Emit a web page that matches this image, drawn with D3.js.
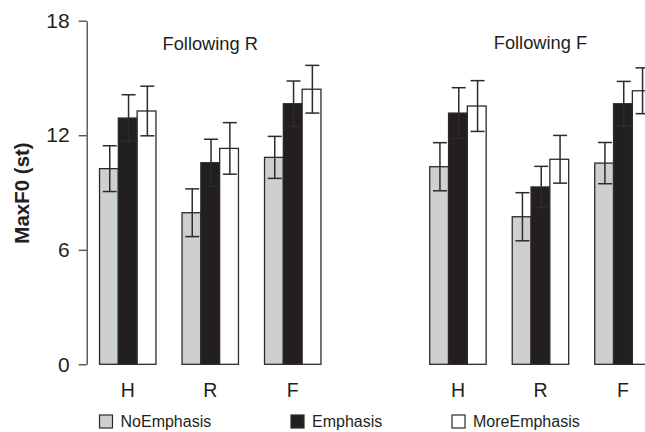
<!DOCTYPE html>
<html>
<head>
<meta charset="utf-8">
<script src="https://cdn.jsdelivr.net/npm/d3@7"></script>
<style>
  html, body { margin: 0; padding: 0; background: #fff; }
  svg { display: block; font-family: "Liberation Sans", Arial, Helvetica, sans-serif; }
</style>
</head>
<body>
<svg id="chart" width="645" height="432"></svg>
<script>
// Max F0 (semitones) by target tone, split by the preceding context
const panels = ["Following R", "Following F"];
const categories = ["H", "R", "F"];
const seriesNames = ["NoEmphasis", "Emphasis", "MoreEmphasis"];
const yTicks = [0, 6, 12, 18];

// mean values, one array per panel, rows = categories, columns = series
const meansFollowingR = [
  [10.25, 12.9, 13.27],
  [7.94, 10.56, 11.31],
  [10.84, 13.65, 14.41]
];
const meansFollowingF = [
  [10.35, 13.16, 13.53],
  [7.73, 9.29, 10.74],
  [10.54, 13.65, 14.33]
];
// error half-widths
const errFollowingR = [
  [1.2, 1.22, 1.3],
  [1.25, 1.23, 1.35],
  [1.1, 1.19, 1.25]
];
const errFollowingF = [
  [1.26, 1.33, 1.33],
  [1.26, 1.08, 1.25],
  [1.08, 1.17, 1.2]
];

const means = [meansFollowingR, meansFollowingF];
const errs = [errFollowingR, errFollowingF];

const fills = { NoEmphasis: "#cecfd1", Emphasis: "#231f20", MoreEmphasis: "#ffffff" };
const ink = "#231f20";
const strokeCol = "#2b2b2b";

const svg = d3.select("#chart");

const y = d3.scaleLinear().domain([0, 18]).range([364.3, 20.7]);
const panelX = d3.scaleBand().domain(panels).range([86.5, 86.5 + 2 * 330.2]);
const catX = d3.scaleBand().domain(categories).range([0, 247.5])
  .paddingInner(0.316).paddingOuter(0.158);
const serX = d3.scaleBand().domain(seriesNames).range([0, catX.bandwidth()]);

// y axis
const yAxis = d3.axisLeft(y).tickValues(yTicks).tickSize(8).tickPadding(9).tickSizeOuter(0);
const gy = svg.append("g").attr("transform", "translate(86.7,0)").call(yAxis);
gy.select(".domain").attr("stroke", "#444").attr("stroke-width", 1.3);
gy.selectAll(".tick line").attr("stroke", "#444").attr("stroke-width", 1.3);
gy.selectAll(".tick text")
  .attr("font-size", 21).attr("fill", ink)
  .attr("font-family", "Liberation Sans, Arial, sans-serif");

svg.append("text")
  .attr("transform", "translate(29,193) rotate(-90)")
  .attr("text-anchor", "middle")
  .attr("font-size", 20.5).attr("font-weight", "bold").attr("fill", ink)
  .text("MaxF0 (st)");

panels.forEach((p, pi) => {
  const g = svg.append("g").attr("transform", `translate(${panelX(p)},0)`);

  g.append("text")
    .attr("x", catX("R") + catX.bandwidth() / 2)
    .attr("y", pi === 0 ? 50 : 49)
    .attr("text-anchor", "middle")
    .attr("font-size", 18.3).attr("fill", ink)
    .text(p);

  categories.forEach((c, ci) => {
    const cg = g.append("g").attr("transform", `translate(${catX(c)},0)`);
    const rows = seriesNames.map((s, si) => ({ s, v: means[pi][ci][si], e: errs[pi][ci][si] }));

    cg.selectAll("rect.bar").data(rows).join("rect")
      .attr("class", "bar")
      .attr("x", d => serX(d.s))
      .attr("y", d => y(d.v))
      .attr("width", serX.bandwidth())
      .attr("height", d => y(0) - y(d.v))
      .attr("fill", d => fills[d.s])
      .attr("stroke", strokeCol).attr("stroke-width", 1.3);

    const eb = cg.selectAll("g.err").data(rows).join("g").attr("class", "err")
      .attr("stroke", strokeCol).attr("stroke-width", 1.5);
    const cx = d => serX(d.s) + serX.bandwidth() / 2 + 0.8;
    eb.append("line")
      .attr("x1", cx).attr("x2", cx)
      .attr("y1", d => y(d.v + d.e)).attr("y2", d => y(d.v - d.e));
    eb.append("line")
      .attr("x1", d => cx(d) - 7).attr("x2", d => cx(d) + 7)
      .attr("y1", d => y(d.v + d.e)).attr("y2", d => y(d.v + d.e));
    eb.append("line")
      .attr("x1", d => cx(d) - 7).attr("x2", d => cx(d) + 7)
      .attr("y1", d => y(d.v - d.e)).attr("y2", d => y(d.v - d.e));

    cg.append("text")
      .attr("x", catX.bandwidth() / 2)
      .attr("y", 397)
      .attr("text-anchor", "middle")
      .attr("font-size", 19.5).attr("fill", ink)
      .text(c);
  });
});

// legend
const legendX = [99.5, 291, 452];
const lg = svg.append("g");
seriesNames.forEach((s, i) => {
  lg.append("rect")
    .attr("x", legendX[i]).attr("y", 415)
    .attr("width", 13).attr("height", 13)
    .attr("fill", fills[s]).attr("stroke", strokeCol).attr("stroke-width", 1.2);
  lg.append("text")
    .attr("x", legendX[i] + 21).attr("y", 426.5)
    .attr("font-size", 16).attr("fill", ink)
    .text(s);
});
</script>
</body>
</html>
